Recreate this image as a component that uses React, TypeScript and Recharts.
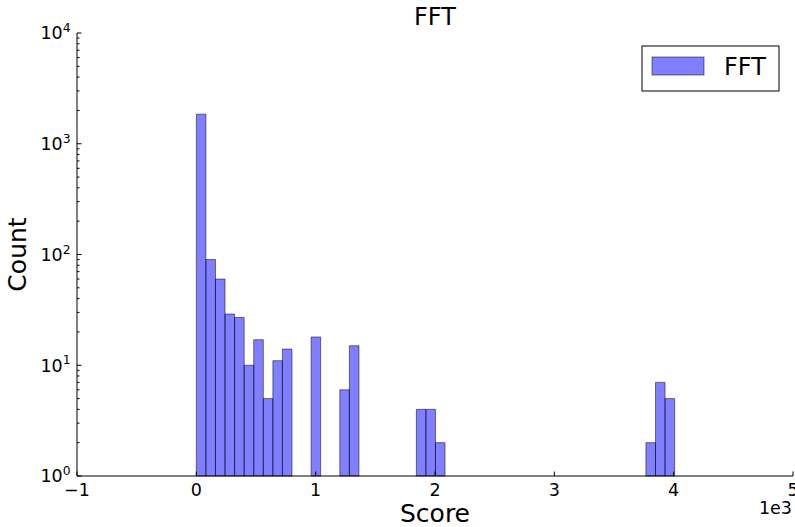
import React from 'react';
import { ComposedChart, XAxis, YAxis, ReferenceArea } from 'recharts';

// Histogram bins (left edges, in score units) and counts for non-empty bins
const binWidth = 80.16;
const binLeft = [0, 80.2, 160.3, 240.5, 320.6, 400.8, 481.0, 561.1, 641.3, 721.4, 961.9, 1202.4, 1282.6, 1843.7, 1923.8, 2004.0, 3767.5, 3847.7, 3927.8];
const counts = [1850, 90, 60, 29, 27, 10, 17, 5, 11, 14, 18, 6, 15, 4, 4, 2, 2, 7, 5];

const xTicks = [-1000, 0, 1000, 2000, 3000, 4000, 5000];
const xTickLabels = ['\u22121', '0', '1', '2', '3', '4', '5'];
const yMajorTicks = [1, 10, 100, 1000, 10000];
const yMajorExps = ['0', '1', '2', '3', '4'];
const yMinorTicks = [2, 3, 4, 5, 6, 7, 8, 9, 20, 30, 40, 50, 60, 70, 80, 90, 200, 300, 400, 500, 600, 700, 800, 900, 2000, 3000, 4000, 5000, 6000, 7000, 8000, 9000];
const yAllTicks = [...yMajorTicks, ...yMinorTicks].sort((a, b) => a - b);

const FONT = '"DejaVu Sans", sans-serif';
const MAJOR = 4.5;
const MINOR = 2.5;
const TICK_FS = 17.5;

const BottomTick = (props: any) => {
  const { x, y, payload } = props;
  const i = xTicks.indexOf(payload.value);
  return (
    <g>
      <line x1={x} x2={x} y1={y} y2={y - MAJOR} stroke="#000" strokeWidth={1} />
      <text x={x} y={y + 19.5} textAnchor="middle" fontSize={TICK_FS} fontFamily={FONT} fill="#000">
        {i >= 0 ? xTickLabels[i] : ''}
      </text>
    </g>
  );
};

const TopTick = (props: any) => {
  const { x, y } = props;
  return <line x1={x} x2={x} y1={y} y2={y + MAJOR} stroke="#000" strokeWidth={1} />;
};

const LeftTick = (props: any) => {
  const { x, y, payload } = props;
  const mi = yMajorTicks.indexOf(payload.value);
  const len = mi >= 0 ? MAJOR : MINOR;
  return (
    <g>
      <line x1={x} x2={x + len} y1={y} y2={y} stroke="#000" strokeWidth={1} />
      {mi >= 0 && (
        <text x={x - 6.5} y={y + 6.3} textAnchor="end" fontSize={TICK_FS} fontFamily={FONT} fill="#000">
          <tspan>10</tspan>
          <tspan dy={-7.2} fontSize={12.3}>{yMajorExps[mi]}</tspan>
        </text>
      )}
    </g>
  );
};

const RightTick = (props: any) => {
  const { x, y, payload } = props;
  const len = yMajorTicks.indexOf(payload.value) >= 0 ? MAJOR : MINOR;
  return <line x1={x} x2={x - len} y1={y} y2={y} stroke="#000" strokeWidth={1} />;
};

export default function App() {
  return (
    <div style={{ position: 'absolute', left: 0, top: 0, width: 795, height: 527, background: '#fff' }}>
      <ComposedChart width={795} height={527} margin={{ top: 33, right: 2, bottom: 0, left: 0 }} data={[]}>
        <XAxis
          xAxisId={0}
          type="number"
          dataKey="x"
          domain={[-1000, 5000]}
          ticks={xTicks}
          interval={0}
          allowDataOverflow
          height={51}
          tickSize={0}
          tickMargin={0}
          tickLine={false}
          axisLine={{ stroke: '#000', strokeWidth: 1 }}
          tick={<BottomTick />}
        />
        <XAxis
          xAxisId="top"
          orientation="top"
          type="number"
          dataKey="x"
          domain={[-1000, 5000]}
          ticks={xTicks}
          interval={0}
          allowDataOverflow
          height={0}
          tickSize={0}
          tickMargin={0}
          tickLine={false}
          axisLine={{ stroke: '#000', strokeWidth: 1 }}
          tick={<TopTick />}
        />
        <YAxis
          yAxisId={0}
          type="number"
          scale="log"
          domain={[1, 10000]}
          ticks={yAllTicks}
          interval={0}
          allowDataOverflow
          width={77}
          tickSize={0}
          tickMargin={0}
          tickLine={false}
          axisLine={{ stroke: '#000', strokeWidth: 1 }}
          tick={<LeftTick />}
        />
        <YAxis
          yAxisId="right"
          orientation="right"
          type="number"
          scale="log"
          domain={[1, 10000]}
          ticks={yAllTicks}
          interval={0}
          allowDataOverflow
          width={0}
          tickSize={0}
          tickMargin={0}
          tickLine={false}
          axisLine={{ stroke: '#000', strokeWidth: 1 }}
          tick={<RightTick />}
        />
        {binLeft.map((l, i) => (
          <ReferenceArea
            key={i}
            xAxisId={0}
            yAxisId={0}
            x1={l}
            x2={l + binWidth}
            y1={1}
            y2={counts[i]}
            fill="#0000ff"
            fillOpacity={0.5}
            stroke="#000"
            strokeOpacity={0.5}
            strokeWidth={1}
            ifOverflow="visible"
          />
        ))}
      </ComposedChart>
      <svg width={795} height={527} style={{ position: 'absolute', left: 0, top: 0, pointerEvents: 'none' }}>
        <text x={435} y={25} textAnchor="middle" fontSize={24} fontFamily={FONT} fill="#000">FFT</text>
        <text x={435} y={522} textAnchor="middle" fontSize={25} fontFamily={FONT} fill="#000">Score</text>
        <text x={26} y={254.5} textAnchor="middle" fontSize={25} fontFamily={FONT} fill="#000" transform="rotate(-90 26 254.5)">Count</text>
        <text x={792} y={514} textAnchor="end" fontSize={TICK_FS} fontFamily={FONT} fill="#000">1e3</text>
        <rect x={642} y={46} width={137} height={45} fill="#fff" stroke="#000" strokeWidth={1} />
        <rect x={652} y={57} width={52} height={18} fill="#0000ff" fillOpacity={0.5} stroke="#000" strokeOpacity={0.5} strokeWidth={1} />
        <text x={724} y={75} fontSize={24} fontFamily={FONT} fill="#000">FFT</text>
      </svg>
    </div>
  );
}
